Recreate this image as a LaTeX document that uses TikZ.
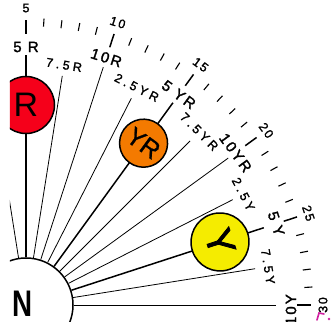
\documentclass[tikz,border=0pt]{standalone}
\usepackage{fontspec}
\setmainfont{Liberation Sans}
\definecolor{hueR}{HTML}{F5001A}
\definecolor{hueYR}{HTML}{F47A00}
\definecolor{hueY}{HTML}{F5EC00}
\definecolor{markpink}{HTML}{D020A0}
\begin{document}
\begin{tikzpicture}[x=1pt,y=1pt,
  hueline/.style={line width=0.8pt},
  hueaxis/.style={line width=1.5pt},
  huedisc/.style={circle, draw, line width=1.5pt, inner sep=0pt},
  majlab/.style={font=\fontsize{15}{15}\selectfont\addfontfeature{LetterSpace=14,FakeBold=1.6}, inner sep=0pt},
  minlab/.style={font=\fontsize{12.5}{12.5}\selectfont\addfontfeature{LetterSpace=26,FakeBold=1.6}, inner sep=0pt},
  numlab/.style={font=\fontsize{12.5}{12.5}\selectfont\addfontfeature{LetterSpace=14,FakeBold=1.4}, inner sep=0pt},
  majtick/.style={line width=1.5pt},
  mintick/.style={line width=1.1pt},
]
\useasboundingbox (-26,-16) rectangle (308,305);
\fill[white] (-26,-16) rectangle (308,305);
\clip (-16,-16) rectangle (308,305);

% neutral centre
\node[circle, draw, line width=1.5pt, fill=white, minimum size=94pt, inner sep=0pt] (N) at (0,0) {};
\node[font=\fontsize{37}{37}\selectfont\bfseries, xscale=0.75, transform shape, inner sep=0pt] (Nt) at (-3,1) {N};

% hue radii
\foreach \a/\r/\s in {99/232/hueline, 90/250/hueaxis, 81/232/hueline, 72/250/hueline,
  63/232/hueline, 54/250/hueaxis, 45/232/hueline, 36/250/hueline, 27/232/hueline,
  18/250/hueaxis, 9/232/hueline, 0/250/hueline}
{
  \coordinate (e\a) at (\a:\r);
  \draw[\s] (N.\a) -- (e\a);
}

% outer scale
\foreach \u in {4,...,30} {
  \pgfmathsetmacro\ang{90-(\u-5)*3.6}
  \pgfmathsetmacro\rot{\u==30 ? 90 : \ang-90}
  \pgfmathtruncatemacro\m{mod(\u,5)}
  \ifnum\m=0
    \draw[majtick] (\ang:271) -- (\ang:285);
    \node[numlab, rotate=\rot] (n\u) at (\ang:297) {\u};
  \else
    \draw[mintick] (\ang:279) -- (\ang:287);
  \fi
}

% hue labels
\foreach \a/\t/\r/\st/\rot in {90/5 R/258/majlab/0, 81/7.5R/243/minlab/-9,
  72/10R/260/majlab/-18, 63/2.5YR/244/minlab/-27, 54/5 YR/260/majlab/-36,
  45/7.5YR/245/minlab/-45, 36/10YR/259/majlab/-54, 27/2.5Y/244/minlab/-63,
  18/5 Y/263/majlab/-72, 9/7.5Y/245/minlab/-81, -1/10Y/265/majlab/90}
{
  \node[\st, rotate=\rot] (h\a) at (\a:\r) {\t};
}

% principal hue discs
\node[huedisc, fill=hueR, minimum size=57pt, font=\fontsize{34}{34}\selectfont] (R) at (90:200) {R};
\node[huedisc, fill=hueYR, minimum size=48pt, font=\fontsize{25}{25}\selectfont\addfontfeature{FakeBold=1}, rotate=-36] (YR) at (54:200) {YR};
\node[huedisc, fill=hueY, minimum size=58pt, font=\fontsize{38}{38}\selectfont\addfontfeature{FakeBold=2}, rotate=-72] (Y) at (18:204) {Y};

% stray magenta mark
\draw[markpink, line width=1.6pt, line cap=round] (291,-15) -- (293,-8) -- (298,-9);
\fill[markpink] (303,-14) circle (1.3);
\end{tikzpicture}
\end{document}
